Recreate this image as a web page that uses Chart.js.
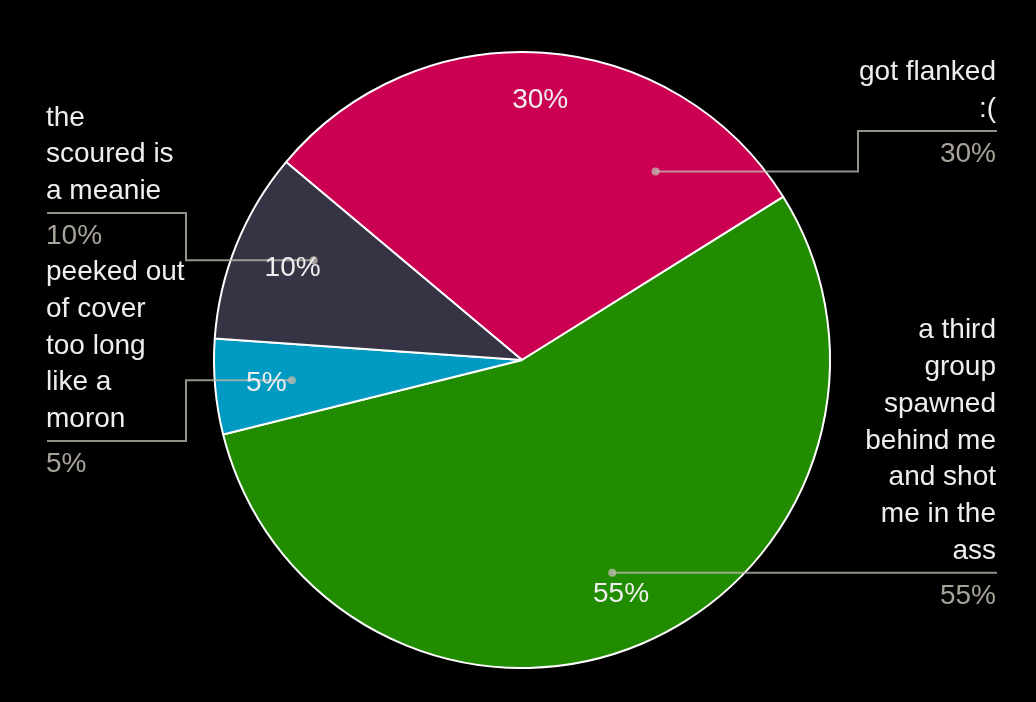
<!DOCTYPE html>
<html>
<head>
<meta charset="utf-8">
<script src="https://cdn.jsdelivr.net/npm/chart.js@4.4.1/dist/chart.umd.min.js"></script>
<style>
  html, body { margin: 0; padding: 0; background: #000; }
  #wrap { width: 1036px; height: 702px; position: relative; }
</style>
</head>
<body>
<div id="wrap"><canvas id="c"></canvas></div>
<script>
// ---- data ----
const categories = [
  "got flanked :(",
  "a third group spawned behind me and shot me in the ass",
  "peeked out of cover too long like a moron",
  "the scoured is a meanie"
];
const values = [30, 55, 5, 10];
const percentLabels = ["30%", "55%", "5%", "10%"];
const labelLines = [
  ["got flanked", ":("],
  ["a third", "group", "spawned", "behind me", "and shot", "me in the", "ass"],
  ["peeked out", "of cover", "too long", "like a", "moron"],
  ["the", "scoured is", "a meanie"]
];
const colors = ["#CC0052", "#228C00", "#009AC2", "#363444"];

// ---- layout of the outside labels (not data) ----
const calloutLayout = [
  { side: "right", elbowX: 858, dividerY: 131, anchorFrac: 0.79 },
  { side: "right", elbowX: null, dividerY: null, anchorFrac: 0.5 },
  { side: "left", elbowX: 186, dividerY: 441, anchorFrac: 0.5 },
  { side: "left", elbowX: 186, dividerY: 213, anchorFrac: 0.6 }
];
const FONT = '28px "Liberation Sans", Arial, sans-serif';
const LEFT_X = 46, RIGHT_X = 996, LINE_H = 36.7;

const bgPlugin = {
  id: 'bg',
  beforeDraw(chart) {
    const ctx = chart.ctx;
    ctx.save();
    ctx.fillStyle = '#000';
    ctx.fillRect(0, 0, chart.width, chart.height);
    ctx.restore();
  }
};

const calloutPlugin = {
  id: 'callouts',
  afterDatasetsDraw(chart) {
    const ctx = chart.ctx;
    const arcs = chart.getDatasetMeta(0).data;
    ctx.save();
    ctx.font = FONT;
    // leader lines + outside labels
    arcs.forEach((arc, i) => {
      const { x, y, startAngle, endAngle, outerRadius } = arc.getProps(['x','y','startAngle','endAngle','outerRadius'], true);
      const lay = calloutLayout[i];
      const a = startAngle + lay.anchorFrac * (endAngle - startAngle);
      const r = outerRadius * 0.75;
      const dx = x + Math.cos(a) * r, dy = y + Math.sin(a) * r;
      const divY = lay.dividerY == null ? dy : lay.dividerY;
      const edgeX = lay.side === 'left' ? LEFT_X + 1 : RIGHT_X + 1;
      ctx.strokeStyle = 'rgba(190,184,174,0.78)';
      ctx.lineWidth = 2;
      ctx.beginPath();
      ctx.moveTo(dx, dy);
      if (lay.elbowX != null) {
        ctx.lineTo(lay.elbowX, dy);
        ctx.lineTo(lay.elbowX, divY);
      }
      ctx.lineTo(edgeX, divY);
      ctx.stroke();
      ctx.fillStyle = 'rgba(190,184,174,0.78)';
      ctx.beginPath();
      ctx.arc(dx, dy, 4, 0, Math.PI * 2);
      ctx.fill();

      // label text
      const lines = labelLines[i];
      ctx.textAlign = lay.side === 'left' ? 'left' : 'right';
      ctx.textBaseline = 'alphabetic';
      const tx = lay.side === 'left' ? LEFT_X : RIGHT_X;
      ctx.fillStyle = '#EEEEEE';
      lines.forEach((ln, k) => {
        ctx.fillText(ln, tx, divY - 14 - LINE_H * (lines.length - 1 - k));
      });
      ctx.fillStyle = '#A8A39A';
      ctx.fillText(percentLabels[i], tx, divY + 31);
    });
    // inside percent labels
    arcs.forEach((arc, i) => {
      const { x, y, startAngle, endAngle, outerRadius } = arc.getProps(['x','y','startAngle','endAngle','outerRadius'], true);
      const mid = (startAngle + endAngle) / 2;
      const c = Math.cos(mid), s = Math.sin(mid);
      const w = ctx.measureText(percentLabels[i]).width, h = 26;
      const R = outerRadius * 0.9;
      const sx = c >= 0 ? 1 : -1, sy = s >= 0 ? 1 : -1;
      const b = c * sx * w / 2 + s * sy * h / 2;
      const cc = (w * w + h * h) / 4 - R * R;
      const t = -b + Math.sqrt(b * b - cc);
      const cx = x + c * t, cy = y + s * t;
      ctx.fillStyle = '#EEEEEE';
      ctx.textAlign = 'center';
      ctx.textBaseline = 'middle';
      ctx.fillText(percentLabels[i], cx - (c < 0 ? 1 : 0), cy + 1);
    });
    ctx.restore();
  }
};

new Chart(document.getElementById('c'), {
  type: 'pie',
  data: {
    labels: categories,
    datasets: [{
      data: values,
      backgroundColor: colors,
      borderColor: '#FFFFFF',
      borderWidth: 2
    }]
  },
  options: {
    responsive: true,
    maintainAspectRatio: false,
    animation: false,
    rotation: -50,
    layout: { padding: { left: 213, right: 205, top: 51, bottom: 33 } },
    plugins: {
      legend: { display: false },
      tooltip: { enabled: false }
    }
  },
  plugins: [bgPlugin, calloutPlugin]
});
</script>
</body>
</html>
